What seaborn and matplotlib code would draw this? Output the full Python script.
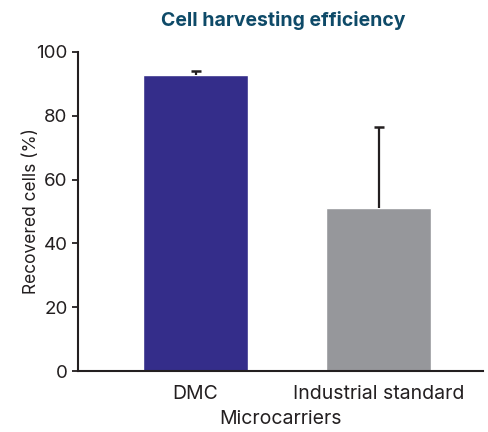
import pandas as pd
import matplotlib.pyplot as plt
import seaborn as sns

# data
carriers = ['DMC', 'Industrial standard']
recovered = [92.8, 51.1]
err_upper = [1.2, 25.4]
bar_colors = ['#342D8A', '#96979B']

sns.set_style('ticks')
plt.rcParams['font.family'] = ['Inter', 'DejaVu Sans']

df = pd.DataFrame({'carrier': carriers, 'recovered': recovered})
upper = [v + e for v, e in zip(recovered, err_upper)]

fig = plt.figure(figsize=(4.88, 4.32), dpi=100)
ax = fig.add_axes([0.160, 0.141, 0.830, 0.739])

sns.barplot(data=df, x='carrier', y='recovered', hue='carrier',
            palette=bar_colors, width=0.574, legend=False, ax=ax,
            saturation=1, errorbar=None)

# one-sided error bars: stem from bar top, cap only on top
xs = list(range(len(carriers)))
ax.vlines(xs, recovered, upper, color='#231F20', linewidth=1.6, zorder=3)
ax.plot(xs, upper, linestyle='none', marker='_', markersize=7,
        markeredgewidth=1.8, color='#231F20', zorder=3)

ax.set_xlim(-0.642, 1.571)
ax.set_ylim(0, 100)
ax.set_yticks([0, 20, 40, 60, 80, 100])
ax.set_xlabel('Microcarriers', fontsize=14, color='#231F20', labelpad=5)
ax.set_ylabel('Recovered cells (%)', fontsize=12.5, color='#231F20', labelpad=-3)
ax.tick_params(axis='y', labelsize=13.5, length=4, width=1.3, colors='#231F20')
ax.tick_params(axis='x', labelsize=14, length=0, colors='#231F20', pad=10)
for s in ['left', 'bottom']:
    ax.spines[s].set_linewidth(1.5)
    ax.spines[s].set_color('#231F20')
sns.despine(ax=ax)

fig.text(0.581, 0.953, 'Cell harvesting efficiency', ha='center', va='center',
         fontsize=14, fontweight='bold', color='#0E4A68')

fig.savefig('out.png', dpi=100)
